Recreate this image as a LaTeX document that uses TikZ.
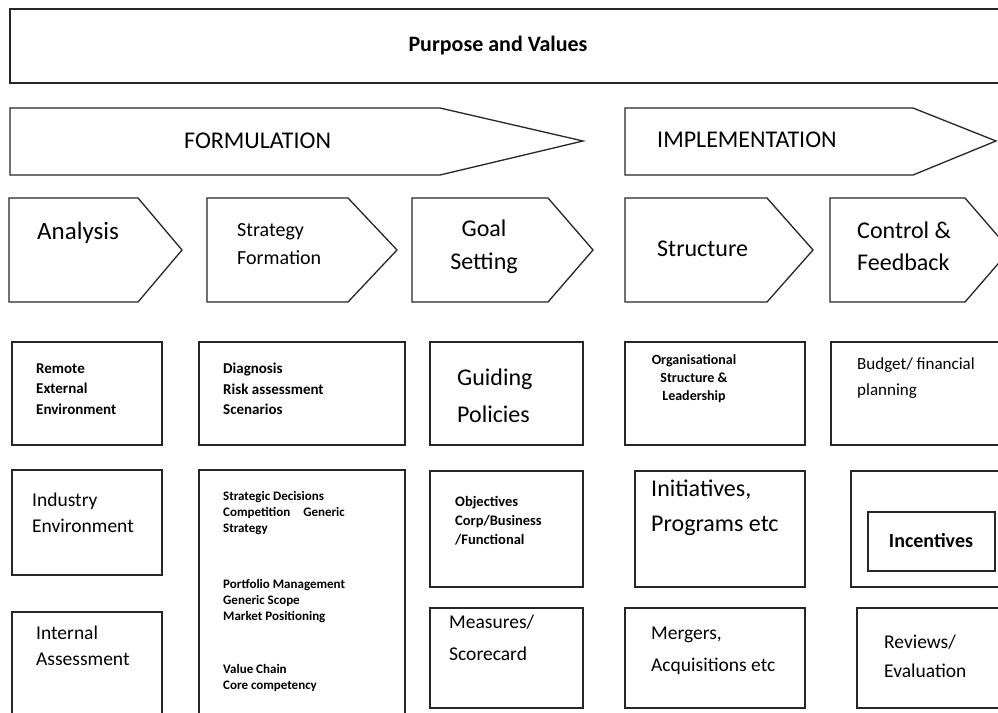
\documentclass[tikz,border=0pt]{standalone}
\usepackage{fontspec}
\setmainfont{Carlito}
\usetikzlibrary{positioning}

\begin{document}
\begin{tikzpicture}[x=1pt, y=-1pt,
    frame/.style={draw=black!85, line width=1.3pt},
    bigtext/.style={font=\fontsize{24}{33}\selectfont, align=left, anchor=west, inner sep=0pt},
    midtext/.style={font=\fontsize{19.5}{26}\selectfont, align=left, anchor=west, inner sep=0pt},
    smalltext/.style={font=\bfseries\fontsize{15}{20.5}\selectfont, align=left, anchor=west, inner sep=0pt},
    tinytext/.style={font=\bfseries\fontsize{13}{16}\selectfont, align=left, anchor=west, inner sep=0pt}
]

\clip (0,0) rectangle (998,712);
\fill[white] (0,0) rectangle (998,712);

% purpose band
\draw[frame] (10,9) rectangle (1006,83);
\node[font=\bfseries\fontsize{22}{26}\selectfont] (purpose) at (498,46) {Purpose and Values};

% phases
\draw[frame] (10,108) -- (440,108) -- (583,141) -- (440,175) -- (10,175) -- cycle;
\node[bigtext] (formulation) at (184,141) {FORMULATION};
\draw[frame] (625,108) -- (913,108) -- (996,141) -- (913,175) -- (625,175) -- cycle;
\node[bigtext] (implementation) at (657,140) {IMPLEMENTATION};

% steps
\foreach \a/\b/\c in {9/138/182, 207/348/397, 412/548/593, 625/767/813, 830/965/1010}
    \draw[frame] (\a,198) -- (\b,198) -- (\c,250) -- (\b,302) -- (\a,302) -- cycle;

\node[bigtext, font=\fontsize{25}{30}\selectfont] (analysis) at (37,233) {Analysis};
\node[bigtext, font=\fontsize{20}{28}\selectfont] (strategy) at (237,244) {Strategy\\Formation};
\node[bigtext, align=center, anchor=center] (goal) at (484,247) {Goal\\Setting};
\node[bigtext] (structure) at (657,249) {Structure};
\node[bigtext, font=\fontsize{24}{32}\selectfont] (control) at (857,246) {Control \&\\Feedback};

% first row of boxes
\draw[frame] (12,342) rectangle (162,445);
\draw[frame] (199,342) rectangle (405,445);
\draw[frame] (430,342) rectangle (583,445);
\draw[frame] (625,342) rectangle (805,445);
\draw[frame] (831,342) rectangle (1006,445);

\node[smalltext] (remote) at (36,389) {Remote\\External\\Environment};
\node[smalltext] (diagnosis) at (223,389) {Diagnosis\\Risk assessment\\Scenarios};
\node[bigtext, font=\fontsize{24}{37}\selectfont] (guiding) at (457,396) {Guiding\\Policies};
\node[smalltext, font=\bfseries\fontsize{14}{18}\selectfont, align=center, anchor=center] (organisation) at (694,379) {Organisational\\Structure \&\\Leadership};
\node[midtext, font=\fontsize{17}{26}\selectfont] (budget) at (857,378) {Budget/ financial\\planning};

% second row of boxes
\draw[frame] (12,470) rectangle (162,575);
\draw[frame] (199,470) rectangle (405,720);
\draw[frame] (430,471) rectangle (583,587);
\draw[frame] (635,471) rectangle (805,587);
\draw[frame] (851,471) rectangle (1006,587);
\draw[frame] (868,512) rectangle (995,571);

\node[midtext] (industry) at (32,513) {Industry\\Environment};
\node[tinytext] (decisions) at (223,513) {Strategic Decisions\\Competition\quad Generic\\Strategy};
\node[tinytext] (portfolio) at (223,601) {Portfolio Management\\Generic Scope\\Market Positioning};
\node[tinytext] (valuechain) at (223,678) {Value Chain\\Core competency};
\node[smalltext, font=\bfseries\fontsize{14.5}{19}\selectfont] (objectives) at (455,521) {Objectives\\Corp/Business\\/Functional};
\node[bigtext, font=\fontsize{24}{35}\selectfont] (initiatives) at (651,508) {Initiatives,\\Programs etc};
\node[font=\bfseries\fontsize{20}{24}\selectfont] (incentives) at (931,541) {Incentives};

% third row of boxes
\draw[frame] (12,612) rectangle (162,720);
\draw[frame] (430,608) rectangle (583,708);
\draw[frame] (625,608) rectangle (805,708);
\draw[frame] (857,608) rectangle (1006,708);

\node[midtext] (internal) at (36,646) {Internal\\Assessment};
\node[midtext, font=\fontsize{19.5}{32}\selectfont] (measures) at (449,638) {Measures/\\Scorecard};
\node[midtext, font=\fontsize{19.5}{32}\selectfont] (mergers) at (651,651) {Mergers,\\Acquisitions etc};
\node[midtext, font=\fontsize{19.5}{29}\selectfont] (reviews) at (884,656) {Reviews/\\Evaluation};

\end{tikzpicture}
\end{document}
